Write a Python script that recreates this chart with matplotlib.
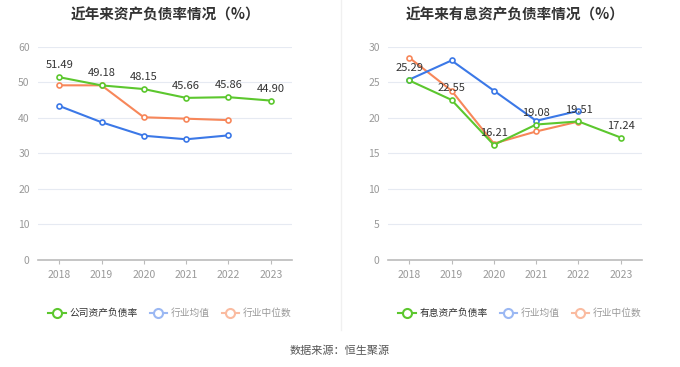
import matplotlib
matplotlib.use("Agg")
import matplotlib.pyplot as plt
from matplotlib.lines import Line2D

plt.rcParams['font.family'] = ['Noto Sans CJK SC', 'DejaVu Sans']

years = ['2018', '2019', '2020', '2021', '2022', '2023']

# Left chart: 资产负债率
company_debt = [51.49, 49.18, 48.15, 45.66, 45.86, 44.90]
industry_avg_debt = [43.4, 38.8, 35.0, 34.0, 35.1]
industry_med_debt = [49.2, 49.2, 40.2, 39.8, 39.4]

# Right chart: 有息资产负债率
company_int = [25.29, 22.55, 16.21, 19.08, 19.51, 17.24]
industry_avg_int = [25.4, 28.1, 23.85, 19.6, 21.0]
industry_med_int = [28.5, 23.85, 16.4, 18.1, 19.5]

GREEN = '#5CC72E'
BLUE = '#3B78E7'
ORANGE = '#F7875A'
GREEN_L = '#5CC72E'
BLUE_L = '#9BB8F3'
ORANGE_L = '#FABBA0'

fig = plt.figure(figsize=(6.8, 3.67), dpi=100)

def draw(ax, comp, avg, med, ymax, ystep, title, comp_name):
    x = list(range(len(years)))
    ax.plot(x[:len(med)], med, color=ORANGE, lw=1.5, marker='o', ms=3.6,
            mfc='white', mec=ORANGE, mew=1.2, zorder=3)
    ax.plot(x[:len(avg)], avg, color=BLUE, lw=1.5, marker='o', ms=3.6,
            mfc='white', mec=BLUE, mew=1.2, zorder=3)
    ax.plot(x, comp, color=GREEN, lw=1.5, marker='o', ms=3.6,
            mfc='white', mec=GREEN, mew=1.2, zorder=4)
    for xi, v in zip(x, comp):
        ax.annotate(f'{v:.2f}', (xi, v), xytext=(0, 5), textcoords='offset points',
                    ha='center', va='bottom', fontsize=8, color='#333333', zorder=5)
    ax.set_xlim(-0.5, len(years) - 0.5)
    ax.set_ylim(0, ymax)
    ax.set_yticks(range(0, ymax + 1, ystep))
    ax.set_xticks(x)
    ax.set_xticklabels(years)
    ax.tick_params(axis='both', labelsize=7.5, colors='#999999', length=0, pad=6)
    ax.tick_params(axis='x', length=3, color='#bbbbbb', pad=4)
    ax.grid(axis='y', color='#E6EAF2', lw=0.8)
    ax.set_axisbelow(True)
    for s in ['top', 'right', 'left']:
        ax.spines[s].set_visible(False)
    ax.spines['bottom'].set_color('#BBBBBB')
    ax.spines['bottom'].set_linewidth(1.2)
    ax.set_title(title, fontsize=10.5, fontweight='bold', color='#333333', pad=20)
    handles = [
        Line2D([], [], color=GREEN_L, lw=1.5, marker='o', ms=6.5, mfc='white', mec=GREEN_L, mew=1.5),
        Line2D([], [], color=BLUE_L, lw=1.5, marker='o', ms=6.5, mfc='white', mec=BLUE_L, mew=1.5),
        Line2D([], [], color=ORANGE_L, lw=1.5, marker='o', ms=6.5, mfc='white', mec=ORANGE_L, mew=1.5),
    ]
    leg = ax.legend(handles, [comp_name, '行业均值', '行业中位数'], ncol=3,
                    loc='center', bbox_to_anchor=(0.52, -0.25), frameon=False,
                    fontsize=7, handlelength=1.8, handletextpad=0.4, columnspacing=1.2)
    cols = ['#333333', '#999999', '#999999']
    for t, c in zip(leg.get_texts(), cols):
        t.set_color(c)

ax1 = fig.add_axes([0.0559, 0.2916, 0.3735, 0.5804])
ax2 = fig.add_axes([0.5706, 0.2916, 0.3735, 0.5804])
draw(ax1, company_debt, industry_avg_debt, industry_med_debt, 60, 10,
     '近年来资产负债率情况（%）', '公司资产负债率')
draw(ax2, company_int, industry_avg_int, industry_med_int, 30, 5,
     '近年来有息资产负债率情况（%）', '有息资产负债率')

fig.add_artist(Line2D([341 / 680, 341 / 680], [1 - 330 / 367, 1.0],
                      color='#F0F0F0', lw=1, transform=fig.transFigure))
fig.text(0.5, 1 - 351 / 367, '数据来源：恒生聚源', ha='center', va='center',
         fontsize=8, color='#555555')

fig.savefig('out.png', dpi=100)
